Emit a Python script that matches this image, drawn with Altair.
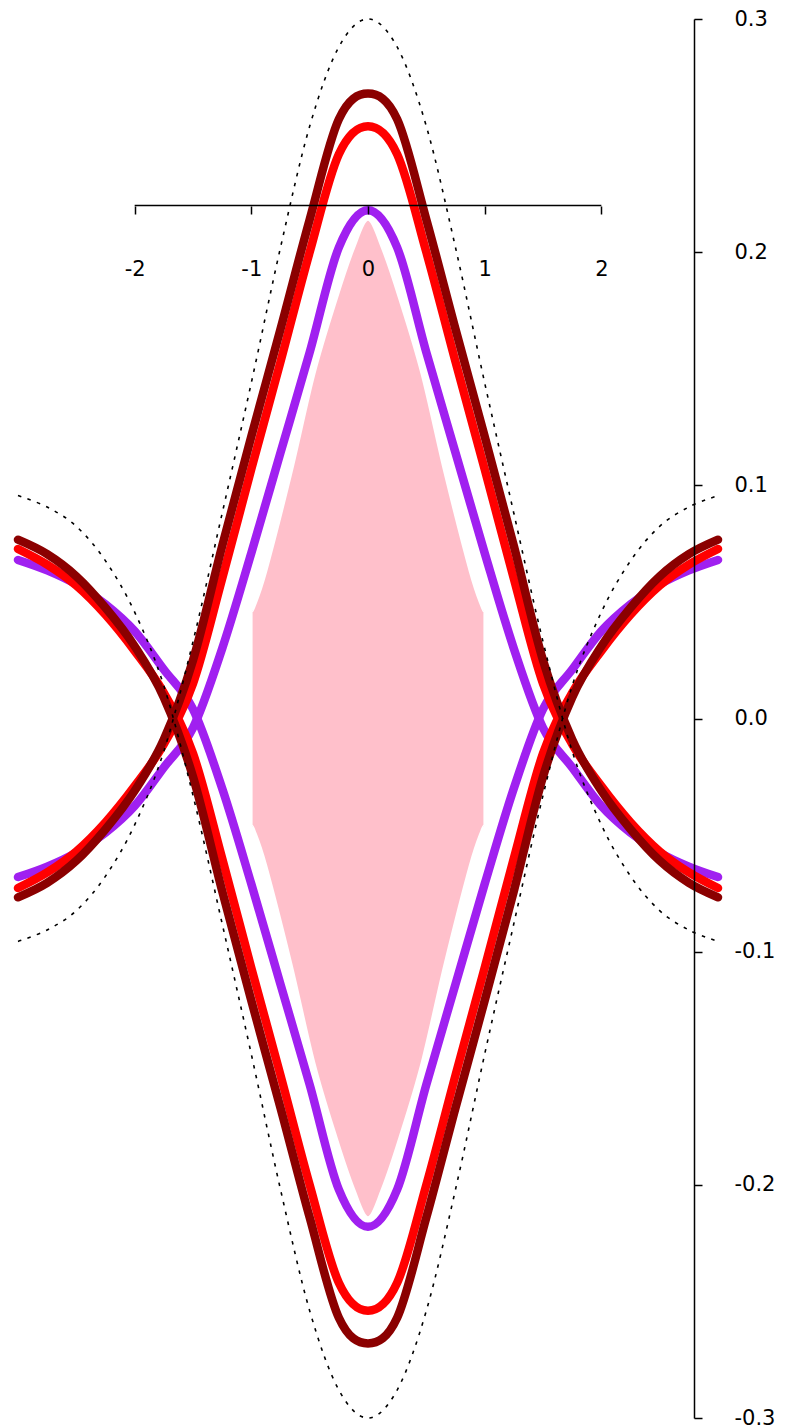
import altair as alt
import pandas as pd

# x positions where the curves were read
xs = [-3.0, -2.75, -2.5, -2.25, -2.0, -1.75, -1.5, -1.25, -1.0, -0.75, -0.5, -0.25, 0.0,
      0.25, 0.5, 0.75, 1.0, 1.25, 1.5, 1.75, 2.0, 2.25, 2.5, 2.75, 3.0]

# upper branch of each curve pair (the lower branch is its mirror image)
dotted = [-0.0956, -0.0907, -0.0824, -0.0676, -0.0456, -0.014, 0.033, 0.088, 0.144, 0.202, 0.254, 0.288, 0.300,
          0.288, 0.254, 0.202, 0.144, 0.088, 0.033, -0.014, -0.0456, -0.0676, -0.0824, -0.0907, -0.0956]
darkred = [-0.0767, -0.0705, -0.061, -0.0475, -0.031, -0.009, 0.025, 0.074, 0.121, 0.167, 0.214, 0.257, 0.268,
           0.257, 0.214, 0.167, 0.121, 0.074, 0.025, -0.009, -0.031, -0.0475, -0.061, -0.0705, -0.0767]
red = [-0.0727, -0.066, -0.057, -0.0445, -0.029, -0.011, 0.015, 0.060, 0.107, 0.153, 0.200, 0.242, 0.254,
       0.242, 0.200, 0.153, 0.107, 0.060, 0.015, -0.011, -0.029, -0.0445, -0.057, -0.066, -0.0727]
purple = [-0.068, -0.0635, -0.0575, -0.049, -0.0375, -0.021, -0.004, 0.030, 0.071, 0.114, 0.157, 0.202, 0.218,
          0.202, 0.157, 0.114, 0.071, 0.030, -0.004, -0.021, -0.0375, -0.049, -0.0575, -0.0635, -0.068]

# pink band (half-height above zero)
band_x = [-1.0, -0.975, -0.875, -0.66, -0.46, -0.27, -0.12, 0.0, 0.12, 0.27, 0.46, 0.66, 0.875, 0.975, 1.0]
band_h = [0.046, 0.048, 0.063, 0.105, 0.148, 0.180, 0.202, 0.214, 0.202, 0.180, 0.148, 0.105, 0.063, 0.048, 0.046]

x_ticks = [-2, -1, 0, 1, 2]
y_ticks = [-0.3, -0.2, -0.1, 0.0, 0.1, 0.2, 0.3]
x_axis_level = 0.22
x_axis_span = [-2, 2]

FONT = "DejaVu Sans"
INTERP = "cardinal"

rows = []
for name, vals in [("purple", purple), ("red", red), ("darkred", darkred), ("dotted", dotted)]:
    for sign, tag in [(1, "up"), (-1, "down")]:
        for x, v in zip(xs, vals):
            rows.append({"curve": name, "branch": name + tag, "x": x, "y": sign * v})
df = pd.DataFrame(rows)

band = pd.DataFrame({"x": band_x, "y": band_h, "ylow": [-h for h in band_h]})
axis_line = pd.DataFrame({"x": [x_axis_span[0]], "x2": [x_axis_span[1]], "y": [x_axis_level]})

xscale = alt.Scale(domain=[-3, 3], nice=False, zero=False)
yscale = alt.Scale(domain=[-0.3, 0.3], nice=False, zero=False)

x_enc = alt.X(
    "x:Q", scale=xscale,
    axis=alt.Axis(orient="bottom", offset=-1212, values=x_ticks, domain=False, grid=False, title=None,
                  tickSize=8, tickColor="black", tickWidth=1.5, labelPadding=55, labelBaseline="middle",
                  labelFont=FONT, labelFontSize=21, labelColor="black", labelFlush=False,
                  labelOverlap=False, labelExpr="replace(datum.label, '\u2212', '-')", zindex=1),
)
y_enc = alt.Y(
    "y:Q", scale=yscale,
    axis=alt.Axis(orient="right", offset=-24, values=y_ticks, format=".1f", grid=False, title=None,
                  domainColor="black", domainWidth=1.5, tickSize=8, tickColor="black", tickWidth=1.5,
                  labelPadding=32, labelAlign="left", labelBaseline="middle",
                  labelFont=FONT, labelFontSize=21, labelColor="black", labelFlush=False,
                  labelOverlap=False, labelExpr="replace(datum.label, '\u2212', '-')", zindex=1),
)

pink = alt.Chart(band).mark_area(fill="#ffc0cb", stroke="white", strokeWidth=2.5,
                                 interpolate=INTERP, fillOpacity=1).encode(
    x=x_enc, y=y_enc, y2="ylow:Q"
)


def curve_layer(name, color):
    return alt.Chart(df[df["curve"] == name]).mark_line(
        color=color, strokeWidth=8.5, strokeCap="round", strokeJoin="round", interpolate=INTERP
    ).encode(x=x_enc, y=y_enc, detail="branch:N", order="x:Q")


l_purple = curve_layer("purple", "#a020f0")
l_red = curve_layer("red", "#ff0000")
l_darkred = curve_layer("darkred", "#8b0000")
l_dotted = alt.Chart(df[df["curve"] == "dotted"]).mark_line(
    color="black", strokeWidth=1.6, strokeDash=[3.5, 6.5], interpolate=INTERP
).encode(x=x_enc, y=y_enc, detail="branch:N", order="x:Q")

x_domain = alt.Chart(axis_line).mark_rule(color="black", strokeWidth=1.5).encode(
    x=x_enc, x2="x2:Q", y=y_enc
)

chart = alt.layer(pink, l_purple, l_red, l_darkred, l_dotted, x_domain).properties(
    width=700, height=1399,
    autosize=alt.AutoSizeParams(type="none"),
    padding={"left": 10, "top": 11, "right": 60, "bottom": 10},
    background="white",
).configure_view(stroke=None)

chart.save("out.html", embed_options={"renderer": "svg", "actions": False})
